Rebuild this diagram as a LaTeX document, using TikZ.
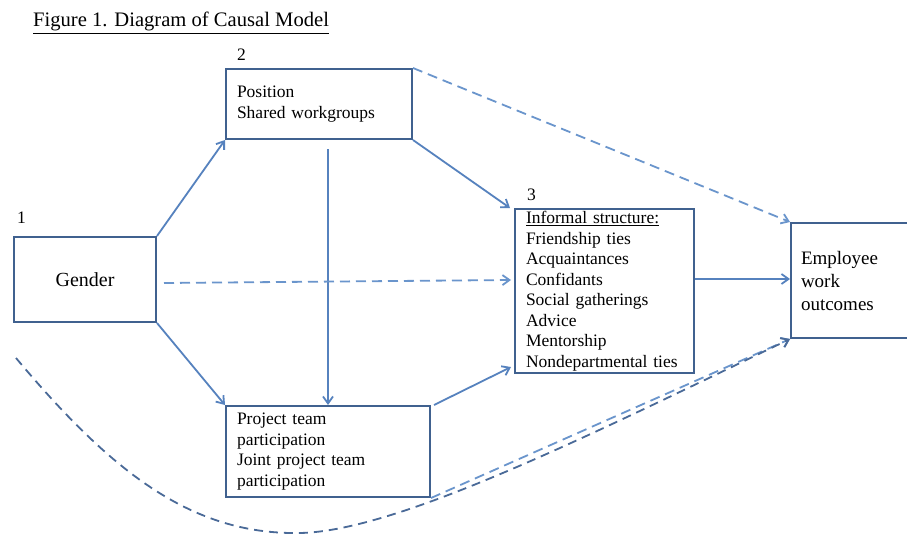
\documentclass[tikz,border=0pt]{standalone}
\usepackage{fontspec}
\setmainfont{Liberation Serif}
\usetikzlibrary{arrows.meta}
\definecolor{boxline}{HTML}{40618F}
\definecolor{arrowline}{HTML}{5682BE}
\definecolor{lightdash}{HTML}{6A95CC}
\definecolor{darkdash}{HTML}{4A6A98}
\newcommand{\boxfont}{\fontsize{17.5}{20.5}\selectfont}
\newcommand{\bigboxfont}{\fontsize{19}{23}\selectfont}
\begin{document}
\begin{tikzpicture}[x=1pt,y=-1pt,
  box/.style={draw=boxline, line width=2pt, rectangle, inner ysep=0pt, inner xsep=11pt, font=\boxfont, align=left},
  conn/.style={draw=arrowline, line width=1.8pt, -{Straight Barb[length=7pt,width=10pt]}},
  dconn/.style={conn, draw=lightdash, dash pattern=on 10pt off 6pt},
  numlab/.style={anchor=base west, inner sep=0pt, font=\boxfont}
]
\clip (0,0) rectangle (907,535);
\fill[white] (0,0) rectangle (907,535);
\node[anchor=base west, inner sep=0pt, font=\fontsize{20.6}{24}\selectfont] (title) at (33,27) {\underline{Figure 1. Diagram of Causal Model}};

\node[numlab] (n1) at (17,223) {1};
\node[numlab] (n2) at (237,60) {2};
\node[numlab] (n3) at (527,200) {3};

\node[box, minimum height=85pt, text width=120pt, align=center, font=\fontsize{20}{24}\selectfont] (gender) at (85,279.5) {Gender};
\node[box, minimum height=70pt, text width=164pt] (pos) at (319,104) {Position\\Shared workgroups};
\node[box, minimum height=91pt, text width=182pt] (proj) at (328,451.5) {Project team\\participation\\Joint project team\\participation};
\node[box, minimum height=164pt, text width=157pt] (inf) at (604.5,291) {\underline{Informal structure:}\\Friendship ties\\Acquaintances\\Confidants\\Social gatherings\\Advice\\Mentorship\\Nondepartmental ties};
\node[box, minimum height=115pt, text width=105pt, inner xsep=10pt, font=\bigboxfont] (emp) at (853.5,280.5) {Employee\\work\\outcomes};

\draw[conn] (gender.north east) -- (pos.south west);
\draw[conn] (gender.south east) -- (proj.north west);
\draw[conn] ([yshift=-9pt]pos.south -| proj.north) -- (proj.north);
\draw[conn] (pos.south east) -- ([xshift=-4pt]inf.north west);
\draw[dconn] ([xshift=7pt,yshift=-3.5pt]gender.east) -- ([xshift=-3pt,yshift=11pt]inf.west);
\draw[conn] ([xshift=3pt]proj.north east) -- ([xshift=-3pt,yshift=7pt]inf.south west);
\draw[conn] ([yshift=12pt]inf.east) -- ([yshift=12pt]inf.east -| emp.west);
\draw[dconn] (pos.north east) -- (emp.north west);
\draw[dconn] (proj.south east) -- (emp.south west);
\coordinate (cstart) at (16,358);
\draw[conn, draw=darkdash, dash pattern=on 9pt off 6pt] (cstart) .. controls (110,470) and (190,535) .. (300,533) .. controls (400,531) and (600,430) .. (emp.south west);
\end{tikzpicture}
\end{document}
